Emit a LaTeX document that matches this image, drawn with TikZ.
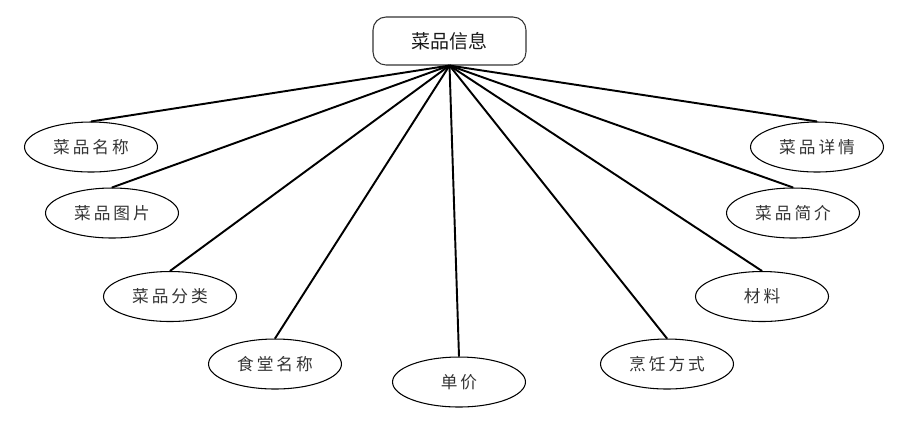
\documentclass[tikz,border=0pt]{standalone}
\usepackage{fontspec}
\usepackage{tikz}
\usetikzlibrary{shapes.geometric}
\newfontfamily\cjk{Noto Sans CJK SC}
\newfontfamily\cjkwide[LetterSpace=18]{Noto Sans CJK SC}

\tikzset{
  attr/.style={ellipse,draw,line width=0.6pt,minimum width=2.66cm,minimum height=1cm,inner sep=0pt,
    text=black!80,font=\cjkwide\fontsize{9.5pt}{9.5pt}\selectfont},
  entity/.style={rectangle,rounded corners=0.26cm,draw=black!80,line width=0.6pt,minimum width=3.06cm,
    minimum height=0.96cm,text=black!90,font=\cjk\fontsize{10.8pt}{10.8pt}\selectfont},
  link/.style={line width=1.1pt}
}

\begin{document}
\begin{tikzpicture}[x=0.02cm,y=-0.02cm]
\useasboundingbox (0,0) rectangle (911,434);
\node[entity] (info) at (449.5,41){菜品信息};
\node[attr] (name) at (91,147){菜品名称};
\node[attr] (pic) at (112,213){菜品图片};
\node[attr] (cat) at (170,296.5){菜品分类};
\node[attr] (canteen) at (275,364){食堂名称};
\node[attr] (price) at (459,382){单价};
\node[attr] (cook) at (667,364){烹饪方式};
\node[attr] (mat) at (762,296.5){材料};
\node[attr] (intro) at (793,213){菜品简介};
\node[attr] (detail) at (817,147){菜品详情};
% lines from the entity to each attribute
\foreach \a in {name,pic,cat,canteen,price,cook,mat,intro,detail}
  \draw[link] (info.south) -- (\a.north);
\end{tikzpicture}
\end{document}
